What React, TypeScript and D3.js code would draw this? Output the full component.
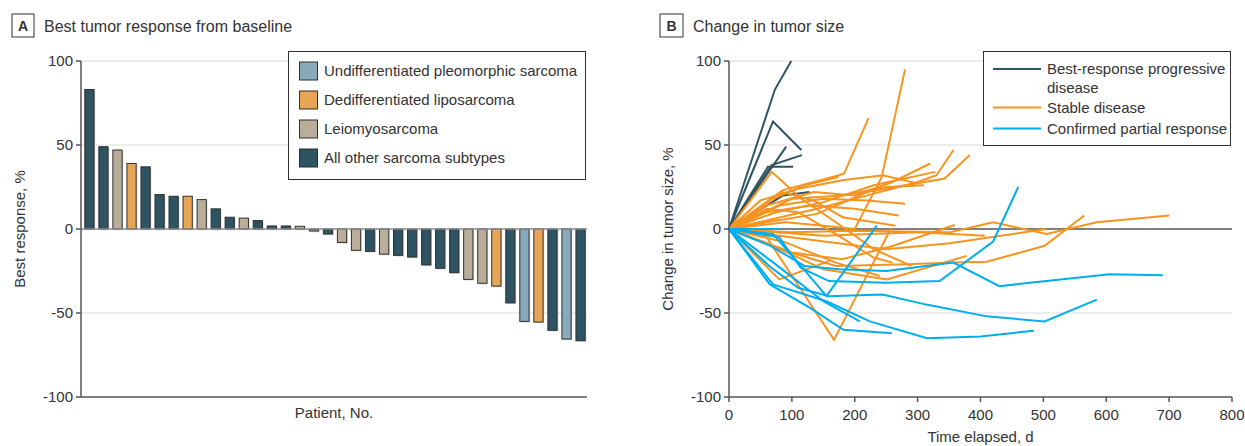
import React from 'react';
import * as d3 from 'd3';

// ---------- Panel A data ----------
const subtypeNames = [
  'Undifferentiated pleomorphic sarcoma',
  'Dedifferentiated liposarcoma',
  'Leiomyosarcoma',
  'All other sarcoma subtypes',
];
const subtypeColors = ['#88AABB', '#E8A555', '#B8AE9A', '#2E5463'];
const bestResponse = [
  83, 49, 47, 39, 37, 20.5, 19.5, 19.5, 17.5, 12, 7, 6.5, 5, 1.8, 1.8, 1.6, -1.2, -3,
  -8, -12.7, -13.3, -15, -15.7, -16.7, -21.4, -23.4, -26, -30, -32.3, -34, -44, -55,
  -55.4, -60.3, -65.5, -66.5,
];
const barSubtype = [
  3, 3, 2, 1, 3, 3, 3, 1, 2, 3, 3, 2, 3, 3, 3, 2, 0, 3, 2, 2, 3, 2, 3, 3, 3, 3, 3, 2, 2, 1,
  3, 0, 1, 3, 0, 3,
];
const yTicks = [-100, -50, 0, 50, 100];

// ---------- Panel B data ----------
const statusNames = ['Best-response progressive disease', 'Stable disease', 'Confirmed partial response'];
const statusColors = ['#2E5463', '#F7941E', '#00AEEF'];
const xTicksB = [0, 100, 200, 300, 400, 500, 600, 700, 800];

const progressiveLines: [number, number][][] = [
  [[0, 0], [73, 83], [99, 100]],
  [[0, 0], [70, 64], [115, 47]],
  [[0, 0], [91, 49]],
  [[0, 0], [62, 37], [102, 37]],
  [[0, 0], [68, 38], [116, 44]],
  [[0, 0], [86, 20], [128, 22]],
];

const stableLines: [number, number][][] = [
  [[0, 0], [85, 23], [175, 32], [183, 33], [222, 66]],
  [[0, 0], [90, 4], [150, 2], [200, 0], [243, 31], [280, 95]],
  [[0, 0], [60, 14], [135, 22], [200, 20], [260, 28], [320, 39]],
  [[0, 0], [75, 10], [150, 16], [230, 26], [328, 34]],
  [[0, 0], [50, 17], [110, 24], [180, 29], [245, 32], [301, 27]],
  [[0, 0], [80, 14], [150, 18], [220, 17], [280, 15]],
  [[0, 0], [84, 22], [134, 17], [181, 7], [265, 2]],
  [[0, 0], [70, 6], [140, 12], [220, 20], [300, 28], [330, 32], [357, 47]],
  [[0, 0], [60, 4], [140, 9], [220, 22], [343, 30], [383, 44]],
  [[0, 0], [68, 34], [115, 18], [170, 4], [230, -12], [290, -22]],
  [[0, 0], [60, -5], [167, -66], [257, 0]],
  [[0, 0], [80, -30], [160, -19]],
  [[0, 0], [80, -12], [170, -22], [283, -21], [357, -20], [410, -19.5], [502, -10], [565, 8]],
  [[0, 0], [70, -10], [150, -24], [251, -30], [378, -16]],
  [[0, 0], [100, -2], [200, -1], [351, -2], [420, 4], [505, -3], [585, 4], [700, 8]],
  [[0, 0], [120, -6], [250, -12], [351, -8.5], [505, 0]],
  [[0, 0], [150, -4], [300, -2], [407, -4]],
  [[0, 0], [100, -14], [180, -18], [261, -10], [359, 2.4]],
  [[0, 0], [60, 10], [130, 14], [200, 12], [270, 8]],
  [[0, 0], [100, 18], [180, 20], [250, 25], [310, 26]],
  [[0, 0], [90, -8], [170, -20], [240, -28]],
  [[0, 0], [60, 12], [110, 10], [170, -3], [230, -17], [260, -20]],
  [[0, 0], [70, 18], [120, 26], [174, 31]],
];

const partialLines: [number, number][][] = [
  [[0, 0], [80, -5], [114, -23], [159, -31], [249, -32], [335, -31], [420, -7.5], [460, 25]],
  [[0, 0], [66, -10], [120, -22], [175, -24], [250, -25], [357, -20], [430, -34], [605, -27], [690, -27.5]],
  [[0, 0], [64, -22], [110, -35], [159, -40], [244, -39], [314, -45], [410, -52], [502, -55], [585, -42]],
  [[0, 0], [70, -33], [155, -43], [224, -55], [315, -65], [400, -64], [485, -60.5]],
  [[0, 0], [65, -33], [129, -47], [182, -60], [259, -62]],
  [[0, 0], [81, -23], [150, -43], [208, -55]],
  [[0, 0], [70, -3], [110, -20], [155, -40], [235, 2]],
  [[0, 0], [82, 0]],
];

const FONT = '"Liberation Sans", Arial, sans-serif';
const TEXT = '#333';

export default function App() {
  // Panel A scales
  const yA = d3.scaleLinear().domain([-100, 100]).range([397, 61]);
  const xA = d3
    .scaleBand<number>()
    .domain(bestResponse.map((_, i) => i))
    .range([82, 588])
    .paddingInner(0.34)
    .paddingOuter(0.2);
  const aLeft = 81;
  const aRight = 587;

  // Panel B scales
  const xB = d3.scaleLinear().domain([0, 800]).range([729, 1232]);
  const yB = d3.scaleLinear().domain([-100, 100]).range([397, 61]);
  const line = d3
    .line<[number, number]>()
    .x((d) => xB(d[0]))
    .y((d) => yB(d[1]));

  const groupsB: { lines: [number, number][][]; color: string }[] = [
    { lines: progressiveLines, color: statusColors[0] },
    { lines: stableLines, color: statusColors[1] },
    { lines: partialLines, color: statusColors[2] },
  ];

  return (
    <svg
      width={1245}
      height={446}
      style={{ position: 'absolute', left: 0, top: 0, background: '#fff' }}
      fontFamily={FONT}
    >
      <rect x={0} y={0} width={1245} height={446} fill="#fff" />

      {/* ---------------- Panel A ---------------- */}
      <rect x={12} y={14} width={22} height={23} fill="#fff" stroke="#333" strokeWidth={1} />
      <text x={23} y={31} textAnchor="middle" fontSize={14} fontWeight="bold" fill={TEXT}>
        A
      </text>
      <text x={44} y={32} fontSize={16} fill={TEXT}>
        Best tumor response from baseline
      </text>

      {/* gridlines */}
      {yTicks
        .filter((t) => t !== 0 && t !== -100)
        .map((t) => (
          <line key={t} x1={aLeft} x2={aRight} y1={yA(t)} y2={yA(t)} stroke="#dcdcdc" strokeWidth={1.2} />
        ))}

      {/* bars */}
      {bestResponse.map((v, i) => {
        const x = xA(i)!;
        const w = xA.bandwidth();
        const y0 = yA(Math.max(0, v));
        const h = Math.abs(yA(v) - yA(0));
        return (
          <g key={i}>
            <rect x={x + 1.2} y={y0 + 1.2} width={w} height={h} fill="#cfcfcf" opacity={0.7} />
            <rect
              x={x}
              y={y0}
              width={w}
              height={h}
              fill={subtypeColors[barSubtype[i]]}
              stroke="#2f2f2f"
              strokeWidth={1}
            />
          </g>
        );
      })}

      {/* zero line */}
      <line x1={aLeft} x2={aRight} y1={yA(0)} y2={yA(0)} stroke="#8a8a8a" strokeWidth={1.5} />

      {/* axes */}
      <line x1={aLeft} x2={aLeft} y1={yA(100)} y2={yA(-100)} stroke="#555" strokeWidth={1.5} />
      <line x1={aLeft} x2={aRight} y1={yA(-100)} y2={yA(-100)} stroke="#555" strokeWidth={1.5} />
      {yTicks.map((t) => (
        <g key={t}>
          <line x1={aLeft - 5} x2={aLeft} y1={yA(t)} y2={yA(t)} stroke="#555" strokeWidth={1.5} />
          <text x={aLeft - 8} y={yA(t)} dy="0.36em" textAnchor="end" fontSize={15} fill={TEXT}>
            {t}
          </text>
        </g>
      ))}
      <text x={(aLeft + aRight) / 2} y={418} textAnchor="middle" fontSize={15} fill={TEXT}>
        Patient, No.
      </text>
      <text
        transform={`translate(25, ${yA(0)}) rotate(-90)`}
        textAnchor="middle"
        fontSize={15}
        fill={TEXT}
      >
        Best response, %
      </text>

      {/* legend A */}
      <rect x={288.5} y={51.5} width={297} height={128} fill="#fff" stroke="#333" strokeWidth={1} />
      {subtypeNames.map((name, i) => {
        const cy = 71 + i * 29;
        return (
          <g key={name}>
            <rect
              x={299.5}
              y={cy - 9}
              width={18}
              height={18}
              fill={subtypeColors[i]}
              stroke="#2f2f2f"
              strokeWidth={1}
            />
            <text x={324} y={cy} dy="0.36em" fontSize={15} fill={TEXT}>
              {name}
            </text>
          </g>
        );
      })}

      {/* ---------------- Panel B ---------------- */}
      <rect x={660} y={14} width={23} height={23} fill="#fff" stroke="#333" strokeWidth={1} />
      <text x={671.5} y={31} textAnchor="middle" fontSize={14} fontWeight="bold" fill={TEXT}>
        B
      </text>
      <text x={693} y={32} fontSize={16} fill={TEXT}>
        Change in tumor size
      </text>

      {yTicks
        .filter((t) => t !== 0 && t !== -100)
        .map((t) => (
          <line key={t} x1={xB(0)} x2={xB(800)} y1={yB(t)} y2={yB(t)} stroke="#dcdcdc" strokeWidth={1.2} />
        ))}
      <line x1={xB(0)} x2={xB(800)} y1={yB(0)} y2={yB(0)} stroke="#808080" strokeWidth={2} />

      {groupsB.map((g, gi) =>
        g.lines.map((pts, li) => (
          <path
            key={`${gi}-${li}`}
            d={line(pts) || ''}
            fill="none"
            stroke={g.color}
            strokeWidth={2}
            strokeLinejoin="miter"
          />
        ))
      )}

      <line x1={xB(0)} x2={xB(0)} y1={yB(100)} y2={yB(-100)} stroke="#555" strokeWidth={1.5} />
      <line x1={xB(0)} x2={xB(800)} y1={yB(-100)} y2={yB(-100)} stroke="#555" strokeWidth={1.5} />
      {yTicks.map((t) => (
        <g key={t}>
          <line x1={xB(0) - 5} x2={xB(0)} y1={yB(t)} y2={yB(t)} stroke="#555" strokeWidth={1.5} />
          <text x={xB(0) - 8} y={yB(t)} dy="0.36em" textAnchor="end" fontSize={15} fill={TEXT}>
            {t}
          </text>
        </g>
      ))}
      {xTicksB.map((t) => (
        <g key={t}>
          <line x1={xB(t)} x2={xB(t)} y1={yB(-100)} y2={yB(-100) + 5} stroke="#555" strokeWidth={1.5} />
          <text x={xB(t)} y={420} textAnchor="middle" fontSize={15} fill={TEXT}>
            {t}
          </text>
        </g>
      ))}
      <text x={(xB(0) + xB(800)) / 2} y={442} textAnchor="middle" fontSize={15} fill={TEXT}>
        Time elapsed, d
      </text>
      <text
        transform={`translate(673, ${yB(0)}) rotate(-90)`}
        textAnchor="middle"
        fontSize={15}
        fill={TEXT}
      >
        Change in tumor size, %
      </text>

      {/* legend B */}
      <rect x={983.5} y={51.5} width={247} height={94} fill="#fff" stroke="#333" strokeWidth={1} />
      {[
        { y: 69, color: statusColors[0], lines: ['Best-response progressive', 'disease'] },
        { y: 107.5, color: statusColors[1], lines: [statusNames[1]] },
        { y: 128.5, color: statusColors[2], lines: [statusNames[2]] },
      ].map((item, i) => (
        <g key={i}>
          <line x1={993} x2={1041} y1={item.y} y2={item.y} stroke={item.color} strokeWidth={2} />
          {item.lines.map((s, k) => (
            <text key={k} x={1047} y={item.y + k * 19} dy="0.36em" fontSize={15} fill={TEXT}>
              {s}
            </text>
          ))}
        </g>
      ))}
    </svg>
  );
}
